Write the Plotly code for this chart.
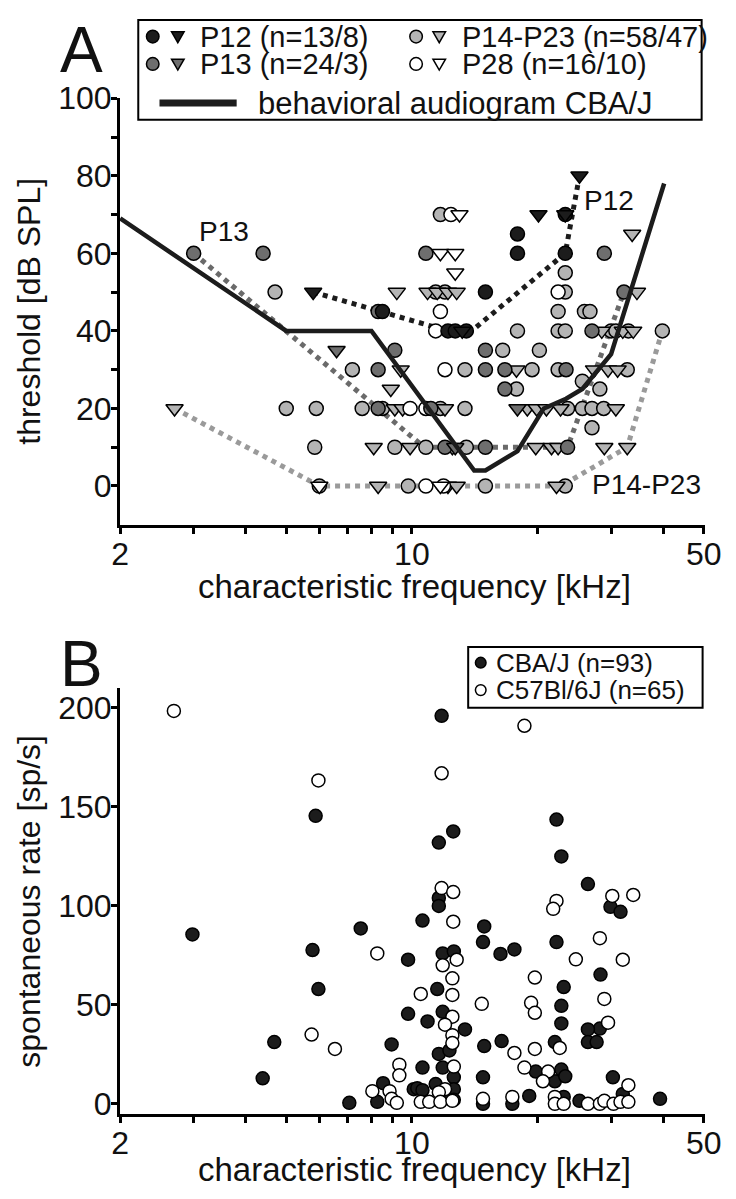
import plotly.graph_objects as go
import math

# ---------------- Panel A data (CF in kHz, threshold in dB SPL) ----------------
p12_circ_f = [17.9, 17.9, 23.3, 23.3, 15.0, 12.2, 12.7, 13.5, 8.5]
p12_circ_t = [65, 60, 60, 70, 50, 40, 40, 40, 45]
p12_tri_f = [5.8, 20.1, 25.2, 23.3, 13.2]
p12_tri_t = [50, 70, 80, 70, 40]

p13_circ_f = [3.0, 4.4, 10.8, 28.9, 32.2, 8.3, 27.0, 9.1, 15.0, 8.3, 15.0, 16.7, 23.4, 16.7, 8.3, 11.1, 12.0, 15.0, 23.6]
p13_circ_t = [60, 60, 60, 60, 50, 45, 40, 35, 35, 30, 30, 30, 30, 25, 20, 20, 10, 10, 10]
p13_tri_f = [6.6, 17.9, 12.7]
p13_tri_t = [35, 20, 10]

p14_circ_f = [11.7, 23.3, 4.7, 11.4, 12.0, 23.3, 22.4, 25.9, 26.7, 17.9, 22.4, 23.3, 30.0, 30.8, 33.0, 39.8,
              16.5, 20.2, 7.2, 13.4, 19.4, 22.4, 32.8, 17.8, 25.6, 28.2, 5.0, 5.9, 7.6, 8.5, 11.7, 13.4,
              23.6, 25.6, 27.0, 28.8, 27.0, 5.85, 9.1, 10.8, 13.5, 6.0, 9.8, 15.0, 23.3]
p14_circ_t = [70, 55, 50, 50, 50, 50, 45, 45, 45, 40, 40, 40, 40, 40, 40, 40,
              35, 35, 30, 30, 30, 30, 30, 25, 27, 25, 20, 20, 20, 20, 20, 20,
              20, 20, 20, 20, 15, 10, 10, 10, 10, 0, 0, 0, 0]
p14_tri_f = [2.7, 33.7, 9.2, 10.9, 11.5, 12.2, 12.8, 34.6, 28.5, 32.0, 33.9, 9.4, 17.8, 27.3, 29.5, 31.1,
             8.9, 9.1, 9.5, 12.0, 18.9, 19.9, 21.0, 22.7, 30.8, 8.1, 9.9, 12.5, 19.8, 21.6, 22.4, 28.9,
             32.8, 8.3, 12.2, 12.8, 22.2]
p14_tri_t = [20, 65, 50, 50, 50, 50, 50, 50, 40, 40, 40, 30, 30, 30, 30, 30,
             25, 20, 20, 20, 20, 20, 20, 20, 20, 10, 10, 10, 10, 10, 10, 10,
             10, 0, 0, 0, 0]

p28_circ_f = [12.4, 22.4, 11.7, 11.4, 12.0, 9.9, 10.8, 10.8, 11.9]
p28_circ_t = [70, 50, 45, 40, 30, 20, 20, 0, 0]
p28_tri_f = [13.0, 11.7, 12.7, 12.7, 6.0, 11.7]
p28_tri_t = [70, 60, 60, 55, 0, 0]

# lowest-threshold lines
p12_line_f = [5.8, 12.2, 13.9, 23.3, 25.2]
p12_line_t = [50, 40, 40, 60, 80]
p13_line_f = [3.0, 10.7, 23.6, 32.2]
p13_line_t = [60, 10, 10, 50]
p14_line_f = [2.7, 6.0, 22.8, 32.8, 39.8]
p14_line_t = [20, 0, 0, 10, 40]

# behavioral audiogram CBA/J
aud_f = [2.0, 5.0, 8.0, 14.1, 15.0, 17.9, 20.7, 23.4, 25.6, 30.0, 40.2]
aud_t = [69, 40, 40, 4, 4, 9, 20, 22.5, 25, 34, 78]

# curve labels
label_names = ["P13", "P12", "P14-P23"]
label_f = [3.55, 29.7, 36.5]
label_t = [65.7, 73.5, 0.3]

# ---------------- Panel B data (CF in kHz, spontaneous rate sp/s) ----------------
cba_f = [2.98, 5.88, 7.54, 11.78, 22.2, 12.56, 11.6, 22.8, 26.4, 11.6, 11.6, 29.9, 31.6, 10.6, 14.9,
         5.78, 9.79, 5.97, 9.79, 4.68, 8.94, 4.39, 8.53, 7.08, 8.26, 10.1,
         11.85, 12.6, 11.5, 14.8, 16.3, 17.6, 22.2, 28.3, 23.1, 22.8, 10.9, 11.85, 13.4, 28.2,
         26.4, 26.4, 27.7, 22.8, 22.0, 14.9, 16.4, 11.6, 11.85, 10.6, 12.6, 12.6, 10.3, 10.6,
         14.8, 14.8, 17.4, 19.1, 19.8, 22.0, 22.8, 23.3, 23.1, 25.2, 32.0, 30.3, 39.3,
         12.0, 12.6, 11.4, 12.3]
cba_r = [85.6, 145.5, 88.6, 196, 143.6, 137.6, 132, 125, 111, 104, 100, 99.5, 97, 92.6, 89.6,
         77.7, 72.8, 58, 45.5, 31.2, 30, 12.9, 10.4, 0.5, 1, 7.4,
         76, 77, 58, 81.7, 75.7, 78, 81.7, 65.3, 59, 49.5, 41.6, 46.5, 37.6, 38,
         37.6, 31.2, 31.2, 40.6, 31.2, 29.2, 31.7, 25.2, 18.3, 18.3, 13.4, 7.4, 7.9, 6.9,
         13.4, 0, 0, 4, 16.3, 11.4, 17.3, 13.9, 3.5, 1.5, 5, 13.4, 2.5,
         3, 2, 10, 27]

c57_f = [2.69, 5.97, 18.6, 11.78, 11.78, 12.56, 30.2, 33.9, 22.2, 21.8, 12.56, 8.26, 5.75, 6.54,
         9.33, 9.33, 8.04, 8.84, 8.94, 9.2,
         12.8, 11.85, 12.5, 12.5, 10.5, 24.7, 28.2, 32.0, 19.7, 14.7, 19.3, 19.7, 28.9, 12.5,
         12.0, 12.5, 12.5, 29.5, 22.6, 17.6, 19.7, 12.6, 12.0, 11.6, 10.5, 11.0, 11.7, 12.5,
         14.8, 17.4, 18.6, 21.2, 20.6, 22.0, 22.0, 23.1, 26.4, 28.2, 28.9, 30.4, 31.6, 33.0, 33.0]
c57_r = [198.5, 163.4, 191, 167, 109, 107, 105, 105.5, 102.5, 98.5, 92, 76, 35, 27.7,
         19.8, 14.4, 6.4, 6.4, 2.5, 0.5,
         72.8, 70, 63.4, 55, 55.5, 73, 83.7, 72.8, 63.8, 50.5, 51, 46, 53, 44,
         40, 34.7, 30.7, 41, 28.2, 25.7, 27.7, 18.8, 7.4, 5.9, 1, 1, 1, 1.5,
         2.5, 3.5, 18.3, 16.3, 11.4, 3.5, 0, 0, 0, 0, 1.5, 0, 1, 9.4, 1]

x_tickvals = [2, 3, 4, 5, 6, 7, 8, 9, 10, 20, 30, 40, 50]
x_ticktext = ["2", "", "", "", "", "", "", "", "10", "", "", "", "50"]
yA_tickvals = [0, 10, 20, 30, 40, 50, 60, 70, 80, 90, 100]
yA_ticktext = ["0", "", "20", "", "40", "", "60", "", "80", "", "100"]
yB_tickvals = [0, 50, 100, 150, 200]

# ---------------- styles ----------------
W, H = 736, 1199
FONT = "Liberation Sans, Arial, sans-serif"
C_P12, C_P13, C_P14, C_P28 = "#1c1c1c", "#6e6e6e", "#b4b4b4", "#ffffff"
L_P12, L_P13, L_P14 = "#1c1c1c", "#6a6a6a", "#9a9a9a"


def px(x):
    return x / W


def py(y):
    return 1 - y / H


fig = go.Figure()


def line_trace(f, t, color, width, dash, xa, ya):
    fig.add_trace(go.Scatter(x=f, y=t, mode="lines", line=dict(color=color, width=width, dash=dash),
                             xaxis=xa, yaxis=ya, showlegend=False, hoverinfo="skip"))


def marker_trace(f, t, color, symbol, size, xa, ya):
    fig.add_trace(go.Scatter(x=f, y=t, mode="markers",
                             marker=dict(color=color, symbol=symbol, size=size,
                                         line=dict(color="#000000", width=1.5)),
                             xaxis=xa, yaxis=ya, showlegend=False))


# Panel A: dotted lines first
line_trace(p14_line_f, p14_line_t, L_P14, 5, "dot", "x", "y")
line_trace(p13_line_f, p13_line_t, L_P13, 5, "dot", "x", "y")
line_trace(p12_line_f, p12_line_t, L_P12, 5, "dot", "x", "y")

marker_trace(p14_circ_f, p14_circ_t, C_P14, "circle", 14, "x", "y")
marker_trace(p14_tri_f, p14_tri_t, C_P14, "triangle-down", 15, "x", "y")
marker_trace(p28_circ_f, p28_circ_t, C_P28, "circle", 14, "x", "y")
marker_trace(p28_tri_f, p28_tri_t, C_P28, "triangle-down", 15, "x", "y")
marker_trace(p13_circ_f, p13_circ_t, C_P13, "circle", 14, "x", "y")
marker_trace(p13_tri_f, p13_tri_t, C_P13, "triangle-down", 15, "x", "y")
marker_trace(p12_circ_f, p12_circ_t, C_P12, "circle", 14, "x", "y")
marker_trace(p12_tri_f, p12_tri_t, C_P12, "triangle-down", 15, "x", "y")

line_trace(aud_f, aud_t, "#1c1c1c", 4.5, "solid", "x", "y")

# Panel B
marker_trace(cba_f, cba_r, C_P12, "circle", 13, "x2", "y2")
marker_trace(c57_f, c57_r, "#ffffff", "circle", 13, "x2", "y2")

axis_common = dict(showline=True, linecolor="#000000", linewidth=3, ticks="outside", ticklen=6,
                   tickwidth=3, tickcolor="#000000", showgrid=False, zeroline=False,
                   tickfont=dict(family=FONT, size=32, color="#111111"), mirror=False,
                   ticklabelstandoff=-7, ticklabeloverflow="allow")

xr = [math.log10(2) - 0.0005, math.log10(50) + 0.002]

fig.update_layout(
    width=W, height=H, autosize=False,
    margin=dict(l=0, r=0, t=0, b=0),
    paper_bgcolor="#ffffff", plot_bgcolor="#ffffff",
    showlegend=False, hovermode=False,
    xaxis=dict(type="log", range=xr, domain=[px(115), px(721)],
               anchor="y", tickvals=x_tickvals, ticktext=x_ticktext, **axis_common),
    yaxis=dict(range=[-10, 100], domain=[py(518), py(82)], anchor="x",
               tickvals=yA_tickvals, ticktext=yA_ticktext, **axis_common),
    xaxis2=dict(type="log", range=xr, domain=[px(115), px(721)],
                anchor="y2", tickvals=x_tickvals, ticktext=x_ticktext, **axis_common),
    yaxis2=dict(range=[-5, 210], domain=[py(1120), py(685)], anchor="x2",
                tickvals=yB_tickvals, **axis_common),
)

ann = []
shapes = []


def text(x, y, s, size, xanchor="center", yanchor="middle", angle=0, xref="paper", yref="paper"):
    ann.append(dict(x=x, y=y, xref=xref, yref=yref, text=s, showarrow=False, xanchor=xanchor,
                    yanchor=yanchor, textangle=angle,
                    font=dict(family=FONT, size=size, color="#111111")))


# panel letters and axis titles
text(px(75), py(33), "A", 64)
text(px(75), py(660), "B", 64)
text(px(420), py(581), "characteristic frequency [kHz]", 33)
text(px(420), py(1177), "characteristic frequency [kHz]", 33)
text(px(21), py(300), "threshold [dB SPL]", 32, angle=-90)
text(px(21), py(903), "spontaneous rate [sp/s]", 32, angle=-90)

# curve labels (log axis -> annotation x in log10 units)
for name, f, t in zip(label_names, label_f, label_t):
    text(math.log10(f), t, name, 28, xref="x", yref="y")

# ---- legend A ----
shapes.append(dict(type="rect", xref="paper", yref="paper", x0=px(134), x1=px(718), y0=py(104), y1=py(2),
                   line=dict(color="#000000", width=2), fillcolor="#ffffff", layer="above"))


def leg_circle(cx, cy, r, fill):
    shapes.append(dict(type="circle", xref="paper", yref="paper", x0=px(cx - r), x1=px(cx + r),
                       y0=py(cy + r), y1=py(cy - r), fillcolor=fill,
                       line=dict(color="#000000", width=1.5), layer="above"))


def leg_tri(cx, cy, s, fill):
    path = "M {:.5f},{:.5f} L {:.5f},{:.5f} L {:.5f},{:.5f} Z".format(
        px(cx - s), py(cy - s * 0.75), px(cx + s), py(cy - s * 0.75), px(cx), py(cy + s * 0.95))
    shapes.append(dict(type="path", xref="paper", yref="paper", path=path, fillcolor=fill,
                       line=dict(color="#000000", width=1.5), layer="above"))


legA_rows = [(149, 175, 196, 19, C_P12, "P12 (n=13/8)"),
             (149, 175, 196, 47, C_P13, "P13 (n=24/3)"),
             (422, 446, 467, 19, C_P14, "P14-P23 (n=58/47)"),
             (422, 446, 467, 47, C_P28, "P28 (n=16/10)")]
for cxp, txp, tx, cy, col, label in legA_rows:
    leg_circle(cxp, cy, 6.5, col)
    leg_tri(txp, cy, 6.5, col)
    text(px(tx), py(cy), label, 29, xanchor="left")
shapes.append(dict(type="line", xref="paper", yref="paper", x0=px(156), x1=px(236), y0=py(87), y1=py(87),
                   line=dict(color="#1c1c1c", width=7), layer="above"))
text(px(256), py(87), "behavioral audiogram CBA/J", 31, xanchor="left")

# ---- legend B ----
shapes.append(dict(type="rect", xref="paper", yref="paper", x0=px(476), x1=px(719), y0=py(705), y1=py(643),
                   line=dict(color="#000000", width=2), fillcolor="#ffffff", layer="above"))
leg_circle(489, 659, 5.5, C_P12)
leg_circle(489, 687, 5.5, "#ffffff")
text(px(503), py(659), "CBA/J (n=93)", 26, xanchor="left")
text(px(503), py(687), "C57Bl/6J (n=65)", 26, xanchor="left")

fig.update_layout(annotations=ann, shapes=shapes)
# remove the browser's default 8px body margin so the figure fills the window exactly
fig.write_html("out.html", config={"displayModeBar": False, "staticPlot": True},
               post_script="document.body.style.margin='0px';")
